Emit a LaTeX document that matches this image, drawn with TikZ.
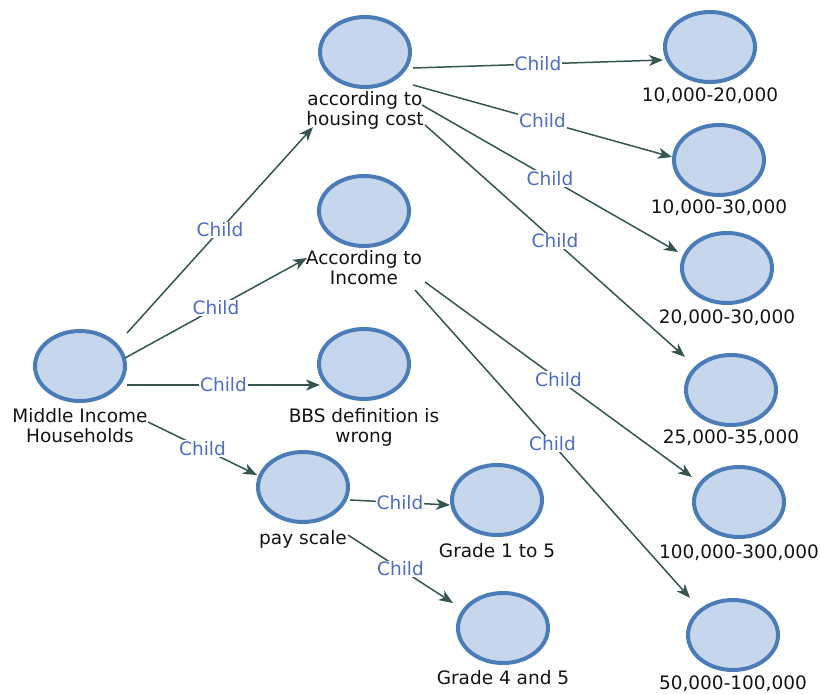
\documentclass[tikz,border=0pt]{standalone}
\usepackage{fontspec}
\setmainfont{DejaVu Sans}
\usetikzlibrary{arrows.meta,shapes.geometric,calc}
\definecolor{ringblue}{HTML}{4A7CB8}
\definecolor{discfill}{HTML}{C6D6EC}
\definecolor{linkgray}{HTML}{355551}
\definecolor{childblue}{HTML}{4E6CC6}
\definecolor{captext}{HTML}{141414}

\begin{document}
\begin{tikzpicture}[x=1pt,y=-1pt,
  disc/.style={ellipse, draw=ringblue, fill=discfill, line width=4pt,
    minimum width=90pt, minimum height=70pt, inner sep=0pt},
  caption/.style={anchor=north, inner sep=0pt, align=center, text=captext,
    font=\fontsize{18.5}{20}\selectfont},
  link/.style={draw=linkgray, line width=1.5pt,
    -{Stealth[length=14pt,width=11pt,inset=4pt]}},
  childtag/.style={midway, fill=white, inner sep=1pt, text=childblue,
    font=\fontsize{18.5}{20}\selectfont}]

\useasboundingbox[fill=white] (0,0) rectangle (820,694);

% topic nodes
\node[disc] (mid) at (80,366) {};
\node[caption] (midl) at (80,408) {Middle Income\\Households};

\node[disc] (hc) at (365,52) {};
\node[caption] (hcl) at (365,91) {according to\\housing cost};

\node[disc] (inc) at (364,211) {};
\node[caption] (incl) at (364,250) {According to\\Income};

\node[disc] (bbs) at (364,364) {};
\node[caption] (bbsl) at (364,408) {BBS definition is\\wrong};

\node[disc] (pay) at (303,487) {};
\node[caption] (payl) at (303,530) {pay scale};

\node[disc] (g15) at (497,500) {};
\node[caption] (g15l) at (497,543) {Grade 1 to 5};

\node[disc] (g45) at (503,628) {};
\node[caption] (g45l) at (503,670) {Grade 4 and 5};

% value ranges
\node[disc] (r1) at (710,47) {};
\node[caption] (r1l) at (710,88) {10,000-20,000};

\node[disc] (r2) at (719,160) {};
\node[caption] (r2l) at (719,200) {10,000-30,000};

\node[disc] (r3) at (727,268) {};
\node[caption] (r3l) at (727,310) {20,000-30,000};

\node[disc] (r4) at (731,390) {};
\node[caption] (r4l) at (731,430) {25,000-35,000};

\node[disc] (r5) at (739,502) {};
\node[caption] (r5l) at (739,545) {100,000-300,000};

\node[disc] (r6) at (733,635) {};
\node[caption] (r6l) at (733,676) {50,000-100,000};

% child links
\draw[link] ($(mid)+(47,-33)$) -- node[childtag]{Child} ($(hc)+(-52,75)$);
\draw[link] ($(mid)+(45,-8)$)  -- node[childtag]{Child} ($(inc)+(-57,47)$);
\draw[link] ($(mid)+(47,19)$)  -- node[childtag]{Child} ($(bbs)+(-44,21)$);
\draw[link] ($(mid)+(68,56)$)  -- node[childtag]{Child} ($(pay)+(-46,-12)$);

\draw[link] ($(hc)+(48,16)$) -- node[childtag]{Child} ($(r1)+(-47,13)$);
\draw[link] ($(hc)+(48,33)$) -- node[childtag]{Child} ($(r2)+(-47,-3)$);
\draw[link] ($(hc)+(57,53)$) -- node[childtag]{Child} ($(r3)+(-49,-16)$);
\draw[link] ($(hc)+(60,73)$) -- node[childtag]{Child} ($(r4)+(-46,-33)$);

\draw[link] ($(inc)+(61,71)$) -- node[childtag]{Child} ($(r5)+(-47,-25)$);
\draw[link] ($(inc)+(51,79)$) -- node[childtag]{Child} ($(r6)+(-43,-37)$);

\draw[link] ($(pay)+(47,13)$) -- node[childtag]{Child} ($(g15)+(-47,5)$);
\draw[link] ($(pay)+(45,48)$) -- node[childtag]{Child} ($(g45)+(-50,-25)$);

\end{tikzpicture}
\end{document}
